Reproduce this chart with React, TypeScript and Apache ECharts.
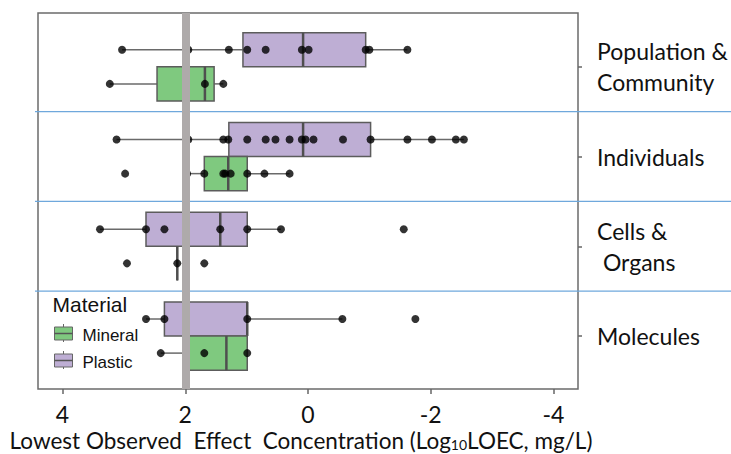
import React, { useEffect, useRef } from "react";
import * as echarts from "echarts";

// Row categories, top to bottom
const categories = ["Population &\nCommunity", "Individuals", "Cells &\n Organs", "Molecules"];
const materials = ["Mineral", "Plastic"];

// Box statistics [min, Q1, median, Q3, max] (log10 LOEC, mg/L)
const plasticBox = [
  [-1.62, -0.94, 0.08, 1.06, 3.03],
  [-2.54, -1.02, 0.08, 1.29, 3.12],
  [0.44, 0.99, 1.43, 2.64, 3.39],
  [-0.56, 0.99, 0.99, 2.34, 2.64],
];
const mineralBox = [
  [1.38, 1.53, 1.68, 2.46, 3.23],
  [0.3, 0.99, 1.3, 1.69, 1.97],
  [2.13, 2.13, 2.13, 2.13, 2.13],
  [0.99, 0.99, 1.33, 1.95, 2.4],
];

// Individual observations
const plasticPoints = [
  [3.03, 1.95, 1.29, 0.99, 0.69, 0.1, -0.01, -0.94, -1.0, -1.62],
  [3.12, 1.95, 1.38, 1.3, 0.99, 0.69, 0.53, 0.3, 0.1, 0.04, -0.09, -0.57, -1.02, -1.62, -2.02, -2.41, -2.54],
  [3.39, 2.64, 2.34, 1.43, 0.99, 0.44, -1.56],
  [2.64, 2.34, 0.99, -0.56, -1.75],
];
const mineralPoints = [
  [3.23, 1.68, 1.38],
  [2.98, 1.97, 1.69, 1.38, 1.35, 1.26, 0.99, 0.71, 0.3],
  [2.95, 2.13, 1.69],
  [2.4, 1.69, 0.99],
];

const xTicks = [4, 2, 0, -2, -4];
const threshold = 2;

const GREEN = "#7fc97f";
const PURPLE = "#beaed4";
const TXT = "Lato";

export default function App() {
  const ref = useRef<HTMLDivElement>(null);
  useEffect(() => {
    const chart = echarts.init(ref.current!, null, { renderer: "svg" });
    const n = categories.length;
    const rowY = (i: number) => n - 1 - i;
    const HALF = 0.38;

    const boxData: number[][] = [];
    plasticBox.forEach((s, i) => boxData.push([rowY(i), ...s, 1]));
    mineralBox.forEach((s, i) => boxData.push([rowY(i), ...s, -1]));

    const pPts: number[][] = [];
    plasticPoints.forEach((arr, i) => arr.forEach((v) => pPts.push([v, rowY(i) + HALF / 2])));
    const mPts: number[][] = [];
    mineralPoints.forEach((arr, i) => arr.forEach((v) => mPts.push([v, rowY(i) - HALF / 2])));

    const dividers = categories.slice(1).map((_, i) => [0, n - 1 - i - 0.5]);
    const rowTicks = categories.map((_, i) => rowY(i));

    const option: any = {
      animation: false,
      grid: {
        left: 38,
        right: 153,
        top: 13,
        bottom: 65,
        containLabel: false,
        outerBoundsMode: "none",
        show: true,
        borderColor: "#6b6b6b",
        borderWidth: 1.5,
        backgroundColor: "transparent",
      },
      xAxis: {
        type: "value",
        inverse: true,
        min: -4.4,
        max: 4.4,
        axisLine: { show: false, onZero: false },
        splitLine: { show: false },
        axisTick: { show: true, customValues: xTicks, length: 5, lineStyle: { color: "#666", width: 1.5 } },
        axisLabel: {
          customValues: xTicks,
          fontFamily: TXT,
          fontSize: 23,
          lineHeight: 18,
          color: "#111",
          margin: 16,
        },
        name: "{a|Lowest Observed  Effect  Concentration (Log}{s|10}{a|LOEC, mg/L)}",
        nameLocation: "middle",
        nameGap: 40,
        nameMoveOverlap: false,
        nameTextStyle: {
          padding: [0, 14, 0, 0],
          rich: {
            a: { fontFamily: TXT, fontSize: 22.5, color: "#111", lineHeight: 22 },
            s: { fontFamily: TXT, fontSize: 14, color: "#111", verticalAlign: "bottom", lineHeight: 8 },
          },
        },
      },
      yAxis: {
        type: "value",
        position: "right",
        min: -0.59,
        max: 3.6,
        axisLine: { show: false, onZero: false },
        splitLine: { show: false },
        axisTick: { show: true, customValues: rowTicks, length: 4, lineStyle: { color: "#666", width: 1.5 } },
        axisLabel: {
          customValues: rowTicks,
          formatter: (v: number) => categories[n - 1 - Math.round(v)],
          fontFamily: TXT,
          fontSize: 23,
          lineHeight: 31,
          color: "#111",
          margin: 19,
          align: "left",
        },
      },
      series: [
        {
          type: "custom",
          name: "dividers",
          silent: true,
          z: 1,
          data: dividers,
          encode: { x: 0, y: 1 },
          renderItem: (params: any, api: any) => {
            const y = api.coord([0, api.value(1)])[1];
            return {
              type: "line",
              shape: { x1: params.coordSys.x - 3, y1: y, x2: api.getWidth(), y2: y },
              style: { stroke: "#6fa8dc", lineWidth: 1.2 },
            };
          },
        },
        {
          type: "custom",
          name: "boxes",
          z: 2,
          data: boxData,
          dimensions: ["row", "min", "q1", "med", "q3", "max", "side"],
          encode: { x: [1, 2, 3, 4, 5], y: 0 },
          renderItem: (params: any, api: any) => {
            const r = api.value(0);
            const side = api.value(6);
            const X = (v: number) => api.coord([v, r])[0];
            const yEdge = api.coord([0, r])[1];
            const yFar = api.coord([0, r + side * HALF])[1];
            const yMid = (yEdge + yFar) / 2;
            const top = Math.min(yEdge, yFar);
            const h = Math.abs(yEdge - yFar);
            const xq1 = X(api.value(2));
            const xq3 = X(api.value(4));
            const xmd = X(api.value(3));
            const left = Math.min(xq1, xq3);
            const w = Math.abs(xq1 - xq3);
            const fill = side > 0 ? PURPLE : GREEN;
            return {
              type: "group",
              children: [
                { type: "line", shape: { x1: X(api.value(1)), y1: yMid, x2: xq1, y2: yMid }, style: { stroke: "#6a6a6a", lineWidth: 1.5 } },
                { type: "line", shape: { x1: xq3, y1: yMid, x2: X(api.value(5)), y2: yMid }, style: { stroke: "#6a6a6a", lineWidth: 1.5 } },
                { type: "rect", shape: { x: left, y: top, width: w, height: h }, style: { fill, stroke: "#5c5c5c", lineWidth: 1.5 } },
                { type: "line", shape: { x1: xmd, y1: top, x2: xmd, y2: top + h }, style: { stroke: "#4f4f4f", lineWidth: 2.5 } },
              ],
            };
          },
        },
        {
          type: "scatter",
          name: "Plastic",
          z: 3,
          symbolSize: 8,
          itemStyle: { color: "#000" },
          data: pPts,
        },
        {
          type: "scatter",
          name: "Mineral",
          z: 3,
          symbolSize: 8,
          itemStyle: { color: "#000" },
          data: mPts,
        },
        {
          type: "line",
          name: "threshold",
          z: 5,
          data: [],
          markLine: {
            silent: true,
            symbol: "none",
            label: { show: false },
            lineStyle: { color: "#aeaaaa", width: 8, type: "solid" },
            data: [{ xAxis: threshold }],
          },
        },
      ],
      graphic: [
        {
          type: "group",
          left: 52,
          top: 294,
          children: [
            { type: "text", x: 0, y: 0, style: { text: "Material", font: "21px 'Liberation Sans', Arial", fill: "#111" } },
            { type: "line", shape: { x1: 11, y1: 30, x2: 11, y2: 48 }, style: { stroke: "#666", lineWidth: 1 } },
            { type: "rect", shape: { x: 2, y: 33, width: 18, height: 13 }, style: { fill: GREEN, stroke: "#666", lineWidth: 1 } },
            { type: "line", shape: { x1: 2, y1: 39.5, x2: 20, y2: 39.5 }, style: { stroke: "#555", lineWidth: 1.5 } },
            { type: "text", x: 30, y: 33, style: { text: materials[0], font: "17px 'Liberation Sans', Arial", fill: "#111" } },
            { type: "line", shape: { x1: 11, y1: 57, x2: 11, y2: 75 }, style: { stroke: "#666", lineWidth: 1 } },
            { type: "rect", shape: { x: 2, y: 60, width: 18, height: 13 }, style: { fill: PURPLE, stroke: "#666", lineWidth: 1 } },
            { type: "line", shape: { x1: 2, y1: 66.5, x2: 20, y2: 66.5 }, style: { stroke: "#555", lineWidth: 1.5 } },
            { type: "text", x: 30, y: 60, style: { text: materials[1], font: "17px 'Liberation Sans', Arial", fill: "#111" } },
          ],
        },
      ],
    };
    chart.setOption(option);
    return () => chart.dispose();
  }, []);
  return <div ref={ref} style={{ position: "fixed", left: 0, top: 0, width: 731, height: 454, background: "#fff" }} />;
}
